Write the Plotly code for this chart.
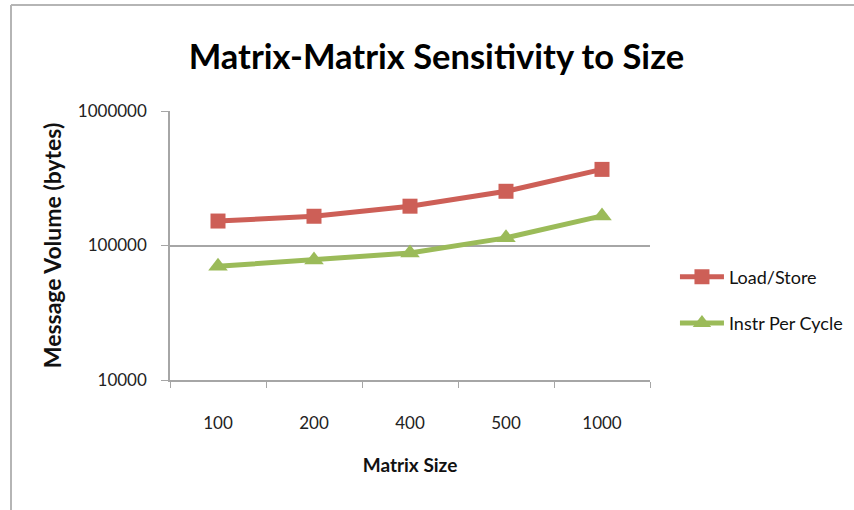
import plotly.graph_objects as go

# Matrix sizes (categories) and measured message volume in bytes
matrix_sizes = ["100", "200", "400", "500", "1000"]
load_store = [152000, 165000, 196000, 253000, 368000]
instr_per_cycle = [70000, 78000, 88000, 114000, 166000]

y_tick_values = [10000, 100000, 1000000]
y_tick_labels = ["10000", "100000", "1000000"]

RED = "#CD5F57"
GREEN = "#9BBB59"
AXIS_GRAY = "#A6A6A6"
FONT = "Lato"

fig = go.Figure()
fig.add_trace(go.Scatter(
    x=matrix_sizes, y=load_store, name="Load/Store", mode="lines+markers",
    legendgroup="ls",
    line=dict(color=RED, width=5),
    marker=dict(symbol="square", size=15, color=RED),
))
fig.add_trace(go.Scatter(
    x=matrix_sizes, y=instr_per_cycle, name="Instr Per Cycle", mode="lines+markers",
    legendgroup="ipc",
    line=dict(color=GREEN, width=5),
    marker=dict(symbol="triangle-up", size=17, color=GREEN),
))

fig.update_layout(
    width=854, height=510,
    margin=dict(l=170, r=204, t=111, b=130, autoexpand=False),
    paper_bgcolor="white", plot_bgcolor="white",
    font=dict(family=FONT, color="#222222"),
    title=dict(
        text="<b>Matrix-Matrix Sensitivity to Size</b>",
        x=0.511, xanchor="center", y=0.888, yanchor="middle",
        font=dict(family=FONT, size=34.5, color="#000000"),
    ),
    showlegend=True,
    legend=dict(
        x=1.052, xanchor="left", y=(380 - 300) / 269, yanchor="middle",
        font=dict(family=FONT, size=18, color="#111111"),
        tracegroupgap=20, itemwidth=44,
        bgcolor="rgba(0,0,0,0)",
    ),
)

fig.update_xaxes(
    type="category", range=[-0.5, 4.5],
    showline=True, linecolor=AXIS_GRAY, linewidth=1.5,
    ticks="outside", tickson="boundaries", ticklen=6, tickcolor=AXIS_GRAY,
    showgrid=False, zeroline=False,
    tickfont=dict(family=FONT, size=17, color="#222222"),
    ticklabelstandoff=27,
    title=dict(text="<b>Matrix Size</b>", standoff=27,
               font=dict(family=FONT, size=19, color="#111111")),
)

fig.update_yaxes(
    type="log", range=[4, 6],
    tickvals=y_tick_values, ticktext=y_tick_labels,
    showline=True, linecolor=AXIS_GRAY, linewidth=1.5,
    ticks="outside", ticklen=7, tickcolor=AXIS_GRAY,
    showgrid=True, gridcolor=AXIS_GRAY, gridwidth=1.5,
    zeroline=False,
    tickfont=dict(family=FONT, size=17, color="#222222"),
    ticklabelstandoff=11,
    title=dict(text="<b>Message Volume (bytes)</b>", standoff=10,
               font=dict(family=FONT, size=23, color="#111111")),
)

# Outer chart frame (left and top edges)
frame_left = (11 - 170) / 480
frame_top = (380 - 5) / 269
fig.add_shape(type="line", xref="paper", yref="paper",
              x0=frame_left, x1=frame_left, y0=frame_top, y1=-0.5,
              line=dict(color="#B5B5B5", width=2))
fig.add_shape(type="line", xref="paper", yref="paper",
              x0=frame_left, x1=1.5, y0=frame_top, y1=frame_top,
              line=dict(color="#B5B5B5", width=2))

fig.write_html("out.html")
